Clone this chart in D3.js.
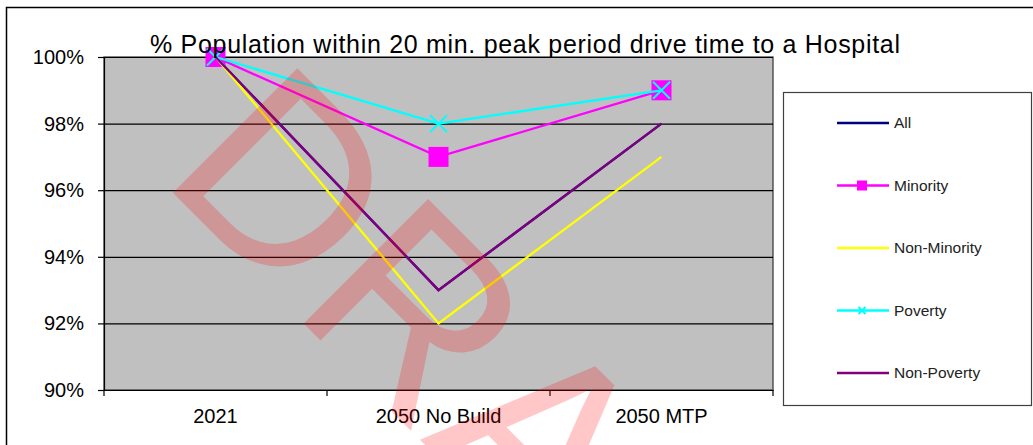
<!DOCTYPE html>
<html>
<head>
<meta charset="utf-8">
<script src="https://cdn.jsdelivr.net/npm/d3@7/dist/d3.min.js"></script>
<style>
  body { margin: 0; background: #fff; }
  svg { display: block; }
</style>
</head>
<body>
<div id="chart"></div>
<script>
(function() {

  'use strict'

  // chart values
  var categories = ['2021', '2050 No Build', '2050 MTP'];
  var seriesNames = ['All', 'Minority', 'Non-Minority', 'Poverty', 'Non-Poverty'];
  var allValues = [1.00, 0.93, 0.98];
  var minorityValues = [1.00, 0.97, 0.99];
  var nonMinorityValues = [1.00, 0.92, 0.97];
  var povertyValues = [1.00, 0.98, 0.99];
  var nonPovertyValues = [1.00, 0.93, 0.98];
  var yTicks = [0.90, 0.92, 0.94, 0.96, 0.98, 1.00];
  var titleText = '% Population within 20 min. peak period drive time to a Hospital';
  var watermarkText = 'DRAFT';

  var Chart = function(element) {
    this.element = element;
    this.svg = null;

    this.width = 1033;
    this.height = 445;

    this.plot = { left: 104, top: 57, right: 773, bottom: 390, fill: '#c0c0c0' };
    this.legend = { x: 783.5, y: 92.5, width: 248, height: 313, rowGap: 62.5 };

    this.fontFamily = '"Liberation Sans", Arial, sans-serif';

    this.series = [
      { name: seriesNames[0], values: allValues, color: '#000080', marker: null },
      { name: seriesNames[1], values: minorityValues, color: '#ff00ff', marker: 'square' },
      { name: seriesNames[2], values: nonMinorityValues, color: '#ffff00', marker: null },
      { name: seriesNames[3], values: povertyValues, color: '#00ffff', marker: 'cross' },
      { name: seriesNames[4], values: nonPovertyValues, color: '#800080', marker: null }
    ];
  };

  Chart.prototype.init = function() {
    this.svg = d3.select(this.element).append('svg')
      .attr('width', this.width)
      .attr('height', this.height);

    this.x = d3.scaleBand().domain(categories).range([this.plot.left, this.plot.right]);
    this.y = d3.scaleLinear().domain([0.90, 1.00]).range([this.plot.bottom, this.plot.top]);

    this.setFrame().setPlotArea().setAxes().setLines().setTitle().setLegend().setWatermark();
  };

  Chart.prototype.setFrame = function() {
    this.svg.append('rect')
      .attr('width', this.width)
      .attr('height', this.height)
      .style('fill', '#fff');
    this.svg.append('rect')
      .attr('x', 6.5)
      .attr('y', 7.5)
      .attr('width', 1100)
      .attr('height', 500)
      .style('fill', 'none')
      .style('stroke', '#000')
      .style('stroke-width', 1.5);
    return this;
  };

  Chart.prototype.setPlotArea = function() {
    var p = this.plot;
    this.svg.append('rect')
      .attr('x', p.left)
      .attr('y', p.top)
      .attr('width', p.right - p.left)
      .attr('height', p.bottom - p.top)
      .style('fill', p.fill)
      .style('stroke', '#404040')
      .style('stroke-width', 1.3);

    // horizontal gridlines
    this.svg.append('g')
      .attr('transform', 'translate(' + p.left + ',0)')
      .call(d3.axisLeft(this.y).tickValues(yTicks).tickSize(-(p.right - p.left)).tickFormat(''))
      .call(function(g) { g.select('.domain').remove(); })
      .selectAll('line')
      .style('stroke', '#000')
      .style('stroke-width', 1.2);
    return this;
  };

  Chart.prototype.setAxes = function() {
    var p = this.plot;
    var font = this.fontFamily;

    var yAxis = this.svg.append('g')
      .attr('transform', 'translate(' + p.left + ',0)')
      .call(d3.axisLeft(this.y).tickValues(yTicks).tickSize(6).tickPadding(14).tickFormat(d3.format('.0%')));
    yAxis.selectAll('line, path').style('stroke', '#000').style('stroke-width', 1.2);
    yAxis.selectAll('text')
      .attr('font-family', font)
      .attr('font-size', '20px')
      .style('fill', '#000');

    var xAxis = this.svg.append('g')
      .attr('transform', 'translate(0,' + p.bottom + ')')
      .call(d3.axisBottom(this.x).tickSize(0).tickPadding(19));
    xAxis.select('.domain').style('stroke', '#000').style('stroke-width', 1.2);
    xAxis.selectAll('text')
      .attr('font-family', font)
      .attr('font-size', '20px')
      .style('fill', '#000');

    // tick marks sit on the category boundaries
    var x = this.x;
    var bounds = categories.map(function(c) { return x(c); }).concat([x(categories[categories.length - 1]) + x.bandwidth()]);
    xAxis.selectAll('.bound')
      .data(bounds)
      .enter().append('line')
      .attr('x1', function(d) { return d; })
      .attr('x2', function(d) { return d; })
      .attr('y1', 0)
      .attr('y2', 6)
      .style('stroke', '#000')
      .style('stroke-width', 1.2);
    return this;
  };

  Chart.prototype.drawMarker = function(g, type, cx, cy, size, color) {
    if (type === 'square') {
      g.append('rect')
        .attr('x', cx - size / 2)
        .attr('y', cy - size / 2)
        .attr('width', size)
        .attr('height', size)
        .style('fill', color);
    } else if (type === 'cross') {
      var h = size / 2;
      g.append('path')
        .attr('d', 'M' + (cx - h) + ',' + (cy - h) + 'L' + (cx + h) + ',' + (cy + h) +
                   'M' + (cx - h) + ',' + (cy + h) + 'L' + (cx + h) + ',' + (cy - h))
        .style('fill', 'none')
        .style('stroke', color)
        .style('stroke-width', 2);
    }
  };

  Chart.prototype.setLines = function() {
    var x = this.x, y = this.y, self = this;
    var line = d3.line()
      .x(function(d, i) { return x(categories[i]) + x.bandwidth() / 2; })
      .y(function(d) { return y(d); });

    this.series.forEach(function(s) {
      var g = self.svg.append('g');
      g.append('path')
        .attr('d', line(s.values))
        .style('fill', 'none')
        .style('stroke', s.color)
        .style('stroke-width', 2.3)
        .style('stroke-linejoin', 'miter');
      if (s.marker) {
        s.values.forEach(function(v, i) {
          self.drawMarker(g, s.marker, x(categories[i]) + x.bandwidth() / 2, y(v), s.marker === 'square' ? 20 : 17, s.color);
        });
      }
    });
    return this;
  };

  Chart.prototype.setTitle = function() {
    this.svg.append('text')
      .attr('x', 525)
      .attr('y', 53)
      .attr('text-anchor', 'middle')
      .attr('font-family', this.fontFamily)
      .attr('font-size', '25px')
      .attr('textLength', 750)
      .attr('lengthAdjust', 'spacing')
      .style('fill', '#000')
      .text(titleText);
    return this;
  };

  Chart.prototype.setLegend = function() {
    var l = this.legend, self = this;
    this.svg.append('rect')
      .attr('x', l.x)
      .attr('y', l.y)
      .attr('width', l.width)
      .attr('height', l.height)
      .style('fill', '#fff')
      .style('stroke', '#404040')
      .style('stroke-width', 1.2);

    var rows = this.svg.append('g').selectAll('g')
      .data(this.series)
      .enter().append('g')
      .attr('transform', function(d, i) { return 'translate(0,' + (123 + i * l.rowGap) + ')'; });

    rows.append('line')
      .attr('x1', 837)
      .attr('x2', 889)
      .attr('y1', 0)
      .attr('y2', 0)
      .style('stroke', function(d) { return d.color; })
      .style('stroke-width', 2.3);

    rows.each(function(d) {
      if (d.marker) {
        self.drawMarker(d3.select(this), d.marker, 862, 0, d.marker === 'square' ? 10 : 7, d.color);
      }
    });

    rows.append('text')
      .attr('x', 894)
      .attr('y', 0)
      .attr('dy', '0.35em')
      .attr('font-family', this.fontFamily)
      .attr('font-size', '15.5px')
      .style('fill', '#222')
      .text(function(d) { return d.name; });
    return this;
  };

  Chart.prototype.setWatermark = function() {
    this.svg.append('text')
      .attr('transform', 'translate(158,178) rotate(45)')
      .attr('font-family', this.fontFamily)
      .attr('font-size', '256px')
      .style('fill', '#ff0000')
      .style('fill-opacity', 0.22)
      .text(watermarkText);
    return this;
  };

  var app = new Chart('#chart');
  app.init();

})();
</script>
</body>
</html>
